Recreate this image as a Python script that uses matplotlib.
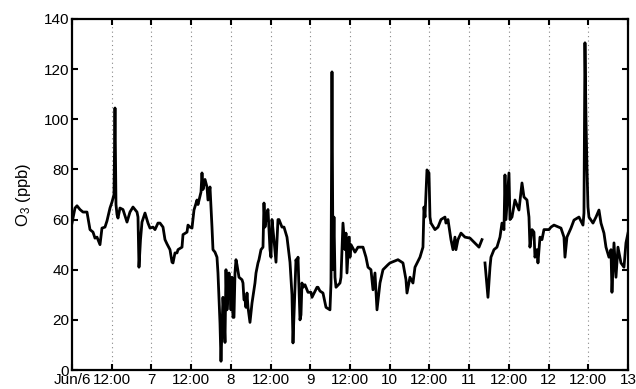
import numpy as np
import matplotlib
matplotlib.use("Agg")
import matplotlib.pyplot as plt

plt.rcParams['font.family'] = ['Liberation Sans', 'DejaVu Sans']
plt.rcParams['mathtext.fontset'] = 'custom'
plt.rcParams['mathtext.rm'] = 'Liberation Sans'
plt.rcParams['mathtext.it'] = 'Liberation Sans:italic'

# hours since Jun 6 00:00
hours = [0, 0.91, 1.51, 2.42, 3.32, 4.53, 5.44, 6.35, 6.95, 7.55, 8.46, 9.06, 9.97, 10.58, 11.48,
         12.09, 12.69, 12.99, 13.29, 13.60, 13.90, 14.50, 15.41, 16.62, 17.52, 18.43, 19.04, 19.64,
         19.94, 20.24, 20.70, 21.15, 22.06, 22.96, 23.57, 24.47, 25.08, 25.98, 26.59, 27.50, 28.10,
         28.70, 29.61, 30.22, 30.52, 31.12, 31.73, 32.03, 33.24, 33.54, 34.75, 35.05, 35.65, 36.26,
         36.86, 37.77, 38.07, 38.98, 39.28, 39.58, 40.19, 40.79, 41.09, 41.70, 42.00, 42.30, 42.60,
         43.21, 43.81, 44.11, 44.72, 45.02, 45.62, 45.93, 46.23, 46.53, 46.83, 47.14, 47.44, 47.74,
         48.04, 48.34, 48.64, 48.95, 49.25, 49.55, 49.85, 50.46, 51.37, 51.67, 51.97, 52.27, 52.57,
         52.88, 53.18, 53.78, 54.39, 55.29, 55.60, 56.20, 56.50, 57.11, 57.71, 58.01, 58.31, 58.92,
         59.22, 59.83, 60.13, 60.43, 61.03, 61.64, 62.24, 62.55, 63.45, 64.06, 64.96, 65.87, 66.47,
         66.78, 67.68, 67.98, 68.29, 68.89, 69.19, 69.49, 69.80, 70.40, 70.70, 71.31, 72.21, 72.52,
         74.03, 74.33, 74.93, 75.84, 76.75, 77.95, 78.26, 78.56, 78.86, 79.16, 79.47, 79.77, 80.98,
         81.28, 81.88, 82.49, 82.79, 83.09, 83.70, 84.00, 84.30, 85.51, 86.41, 87.93, 88.83, 89.44,
         90.34, 90.95, 91.55, 92.16, 93.06, 93.97, 95.48, 96.08, 98.50, 100.01, 100.92, 101.22,
         102.13, 103.03, 103.64, 105.15, 106.05, 106.36, 106.66, 107.26, 107.87, 108.17, 108.47,
         109.68, 110.59, 111.49, 112.70, 113.00, 113.61, 114.51, 115.12, 115.72, 116.02, 116.63,
         117.54, 118.74, 120.26, 121.46, 122.98, 123.88, 124.30, 124.79, 125.69, 126.30, 126.60,
         127.51, 128.41, 129.32, 129.92, 130.53, 130.83, 131.13, 132.04, 132.34, 132.95, 133.85,
         135.06, 135.97, 136.57, 137.48, 138.08, 138.38, 138.99, 139.59, 139.89, 140.50, 140.80,
         141.41, 142.01, 142.61, 144.13, 144.73, 145.64, 147.75, 148.66, 148.96, 149.56, 150.77,
         151.68, 153.19, 154.40, 154.70, 155.00, 155.31, 155.61, 155.91, 156.21, 157.42, 158.33,
         159.23, 159.84, 160.74, 161.35, 162.25, 162.86, 163.16, 163.77, 164.37, 164.97, 165.88,
         166.79, 167.39, 168.00]

o3 = [58.6, 64.6, 65.5, 64, 63, 63, 56, 55, 52.6, 53, 50, 56.6, 57, 59.5, 64.6,
      67, 70, 104.5, 66, 62, 60.6, 64.6, 64, 59, 63, 65, 64, 63,
      61, 41, 52, 59, 62.6, 58.6, 56.6, 57, 56, 58.6, 58.6, 57, 52,
      50.3, 48, 43, 42.7, 46.7, 46.7, 48, 49, 54, 55, 57.8, 57, 56.6,
      63.8, 67.8, 66, 71, 78.6, 72, 76, 73, 67.8, 73, 65, 57, 48,
      47, 45, 38.7, 18.7, 3.5, 29, 22, 11, 40, 24, 30, 38.7, 33,
      24, 37, 21, 21, 38.7, 44, 42, 37, 36, 34.7, 28, 28, 25,
      30.7, 25, 19, 26.7, 34.7, 38.7, 42.7, 44, 48, 49, 66.6, 57, 62.6,
      64, 48, 45, 60, 52, 43, 60, 60, 57, 57, 53, 43, 30,
      10.8, 44, 42, 45, 20, 22, 34.7, 33, 34, 33, 31, 31, 29,
      33, 33, 31.5, 30.7, 25, 24, 34.7, 118.9, 40, 61, 37, 33, 34.7,
      37, 58.6, 48, 54.6, 38.7, 53, 45, 50, 47, 49, 49, 45, 41,
      40, 32, 38.7, 24, 34.7, 40, 42, 42.7, 44, 42.7, 36, 30.7,
      37, 34.7, 41, 45, 49, 65, 61, 79.8, 78.6, 61, 58.6,
      56, 57, 60, 61, 58.6, 60, 52, 48, 53, 48, 52,
      54.6, 53, 52.6, 51, 49, 52, np.nan, 42.7, 29, 41, 45,
      48, 49, 53, 58.6, 56, 77.8, 60, 78.6, 60, 61, 67.8,
      63.8, 74.6, 69, 67.8, 61, 49, 56, 55, 45, 48, 42.7,
      53, 52, 56, 56, 57, 57.8, 56.6, 53, 45, 53, 56.6,
      59.8, 61, 57.8, 62.6, 130.5, 100, 80.6, 65, 61, 58.6, 61,
      63.8, 58.6, 54.6, 49, 45, 48, 31, 50.7, 37, 49, 42.7,
      41, 50.7, 54.6]

tick_hours = list(range(0, 169, 12))
tick_labels = ['Jun/6', '12:00', '7', '12:00', '8', '12:00', '9', '12:00', '10',
               '12:00', '11', '12:00', '12', '12:00', '13']
y_ticks = [0, 20, 40, 60, 80, 100, 120, 140]

fig = plt.figure(figsize=(6.36, 3.89), dpi=100)
ax = fig.add_axes([0.1132, 0.0488, 0.8742, 0.9024])

ax.plot(hours, o3, color='black', linewidth=2.0)

ax.set_xlim(0, 168)
ax.set_ylim(0, 140)
ax.set_xticks(tick_hours)
ax.set_xticklabels(tick_labels)
ax.set_yticks(y_ticks)
for h in tick_hours[1:-1]:
    ax.axvline(h, color='#888888', linestyle=(0, (1, 3)), linewidth=0.8, zorder=0)

ax.tick_params(direction='in', length=4, width=1.5, top=True, right=True,
               labelsize=11, pad=2, colors='black')
ax.tick_params(axis='x', pad=2)
ax.tick_params(labeltop=False, labelright=False)
for s in ax.spines.values():
    s.set_linewidth(1.6)

ax.set_ylabel('O$_3$ (ppb)', fontsize=12, labelpad=8)

fig.savefig('out.png', dpi=100)
